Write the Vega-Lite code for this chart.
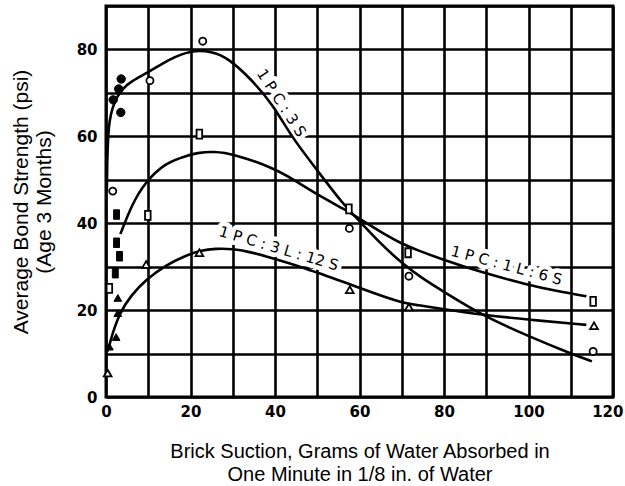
{
  "$schema": "https://vega.github.io/schema/vega-lite/v6.json",
  "width": 507,
  "height": 391,
  "autosize": "none",
  "padding": {"left": 106, "top": 6, "right": 12, "bottom": 89},
  "background": "white",
  "config": {
    "view": {"stroke": "black", "strokeWidth": 3},
    "axis": {
      "grid": true, "gridColor": "black", "gridWidth": 2.6, "gridOpacity": 1,
      "domain": false, "ticks": false, "tickSize": 0,
      "labelFont": "DejaVu Sans", "labelFontWeight": "bold", "labelFontSize": 15, "labelColor": "black",
      "titleFont": "Liberation Sans", "titleFontWeight": "normal", "titleFontSize": 20, "titleColor": "black",
      "titleLineHeight": 23
    }
  },
  "datasets": {
    "points": [
      {"mix": "3S", "filled": true, "x": 3.6, "y": 73.2},
      {"mix": "3S", "filled": true, "x": 3.0, "y": 70.9},
      {"mix": "3S", "filled": true, "x": 1.7, "y": 68.4},
      {"mix": "3S", "filled": true, "x": 3.5, "y": 65.5},
      {"mix": "3S", "filled": false, "x": 1.6, "y": 47.4},
      {"mix": "3S", "filled": false, "x": 10.4, "y": 72.8},
      {"mix": "3S", "filled": false, "x": 22.9, "y": 81.9},
      {"mix": "3S", "filled": false, "x": 57.6, "y": 38.8},
      {"mix": "3S", "filled": false, "x": 71.7, "y": 27.8},
      {"mix": "3S", "filled": false, "x": 115.3, "y": 10.5},
      {"mix": "6S", "filled": true, "x": 2.5, "y": 42},
      {"mix": "6S", "filled": true, "x": 2.5, "y": 35.5},
      {"mix": "6S", "filled": true, "x": 3.2, "y": 32.4},
      {"mix": "6S", "filled": true, "x": 2.2, "y": 28.5},
      {"mix": "6S", "filled": false, "x": 0.8, "y": 25},
      {"mix": "6S", "filled": false, "x": 9.9, "y": 41.8},
      {"mix": "6S", "filled": false, "x": 22.1, "y": 60.5},
      {"mix": "6S", "filled": false, "x": 57.5, "y": 43.3},
      {"mix": "6S", "filled": false, "x": 71.5, "y": 33.2},
      {"mix": "6S", "filled": false, "x": 115.3, "y": 22},
      {"mix": "12S", "filled": true, "x": 2.8, "y": 22.8},
      {"mix": "12S", "filled": true, "x": 2.8, "y": 19.3},
      {"mix": "12S", "filled": true, "x": 2.4, "y": 13.8},
      {"mix": "12S", "filled": true, "x": 0.8, "y": 11.6},
      {"mix": "12S", "filled": false, "x": 0.4, "y": 5.5},
      {"mix": "12S", "filled": false, "x": 9.5, "y": 30.5},
      {"mix": "12S", "filled": false, "x": 22.1, "y": 33.2},
      {"mix": "12S", "filled": false, "x": 57.7, "y": 24.7},
      {"mix": "12S", "filled": false, "x": 71.7, "y": 20.7},
      {"mix": "12S", "filled": false, "x": 115.5, "y": 16.4}
    ],
    "curves": [
      {"mix": "3S", "x": 0.2, "y": 47.5}, {"mix": "3S", "x": 0.3, "y": 55}, {"mix": "3S", "x": 0.5, "y": 60},
      {"mix": "3S", "x": 0.8, "y": 63.5}, {"mix": "3S", "x": 1.5, "y": 66.5}, {"mix": "3S", "x": 2.5, "y": 69},
      {"mix": "3S", "x": 4, "y": 71}, {"mix": "3S", "x": 6, "y": 72.7}, {"mix": "3S", "x": 10, "y": 74.7},
      {"mix": "3S", "x": 15, "y": 77.8}, {"mix": "3S", "x": 20, "y": 79.8}, {"mix": "3S", "x": 25, "y": 79.6},
      {"mix": "3S", "x": 29.2, "y": 77.8}, {"mix": "3S", "x": 34, "y": 73.5}, {"mix": "3S", "x": 39.5, "y": 67.4},
      {"mix": "3S", "x": 43.8, "y": 60}, {"mix": "3S", "x": 50, "y": 52.2}, {"mix": "3S", "x": 56, "y": 44.5},
      {"mix": "3S", "x": 60, "y": 40.5}, {"mix": "3S", "x": 65, "y": 35.3}, {"mix": "3S", "x": 70, "y": 30.8},
      {"mix": "3S", "x": 75, "y": 27.2}, {"mix": "3S", "x": 80, "y": 24.2}, {"mix": "3S", "x": 89, "y": 18.8},
      {"mix": "3S", "x": 100, "y": 14}, {"mix": "3S", "x": 110, "y": 10}, {"mix": "3S", "x": 115, "y": 8.2},
      {"mix": "6S", "x": 3.4, "y": 37.5}, {"mix": "6S", "x": 6, "y": 44}, {"mix": "6S", "x": 9.1, "y": 49.3},
      {"mix": "6S", "x": 14.2, "y": 54}, {"mix": "6S", "x": 19, "y": 55.5}, {"mix": "6S", "x": 22.1, "y": 56.3},
      {"mix": "6S", "x": 25.5, "y": 56.5}, {"mix": "6S", "x": 30, "y": 56}, {"mix": "6S", "x": 39.5, "y": 52.8},
      {"mix": "6S", "x": 45, "y": 49.7}, {"mix": "6S", "x": 50.5, "y": 46.3}, {"mix": "6S", "x": 56.5, "y": 43.2},
      {"mix": "6S", "x": 60, "y": 41}, {"mix": "6S", "x": 65, "y": 38}, {"mix": "6S", "x": 70.3, "y": 35.1},
      {"mix": "6S", "x": 73.5, "y": 33.9}, {"mix": "6S", "x": 80, "y": 31.5}, {"mix": "6S", "x": 89.2, "y": 28.6},
      {"mix": "6S", "x": 99.5, "y": 25.9}, {"mix": "6S", "x": 107, "y": 24.3}, {"mix": "6S", "x": 113.7, "y": 23.2},
      {"mix": "12S", "x": 0.4, "y": 10.5}, {"mix": "12S", "x": 1.5, "y": 14.5}, {"mix": "12S", "x": 3.2, "y": 19.3},
      {"mix": "12S", "x": 6, "y": 23.5}, {"mix": "12S", "x": 9.5, "y": 27}, {"mix": "12S", "x": 14, "y": 30.3},
      {"mix": "12S", "x": 19, "y": 32.6}, {"mix": "12S", "x": 22.2, "y": 33.7}, {"mix": "12S", "x": 26, "y": 34.2},
      {"mix": "12S", "x": 30, "y": 34.1}, {"mix": "12S", "x": 34, "y": 33.4}, {"mix": "12S", "x": 37.9, "y": 32.4},
      {"mix": "12S", "x": 45.8, "y": 30.1}, {"mix": "12S", "x": 50, "y": 28.6}, {"mix": "12S", "x": 56.9, "y": 26.3},
      {"mix": "12S", "x": 63, "y": 24}, {"mix": "12S", "x": 70.3, "y": 21.6}, {"mix": "12S", "x": 73.5, "y": 21.2},
      {"mix": "12S", "x": 80, "y": 20.2}, {"mix": "12S", "x": 89.2, "y": 18.9}, {"mix": "12S", "x": 100, "y": 17.8},
      {"mix": "12S", "x": 113.7, "y": 16.6}
    ],
    "labels": [
      {"mix": "3S", "label": "1 P C : 3 S", "x": 41.5, "y": 67.7},
      {"mix": "12S", "label": "1 P C : 3 L : 12 S", "x": 40.9, "y": 34.2},
      {"mix": "6S", "label": "1 P C : 1 L : 6 S", "x": 94.8, "y": 30.3}
    ],
    "legend": [
      {"key": "PC", "desc": "PORTLAND CEMENT", "y": 74.4},
      {"key": "L", "desc": "LIME", "y": 68.6},
      {"key": "S", "desc": "SAND", "y": 62.4}
    ]
  },
  "encoding": {
    "x": {
      "field": "x", "type": "quantitative",
      "scale": {"domain": [0, 120], "nice": false, "zero": false},
      "axis": {
        "values": [0, 10, 20, 30, 40, 50, 60, 70, 80, 90, 100, 110, 120],
        "labelExpr": "datum.value % 20 === 0 ? datum.label : ''",
        "labelAlign": {"condition": {"test": "datum.value === 120", "value": "right"}, "value": "center"},
        "labelOffset": {"condition": {"test": "datum.value === 120", "value": 10}, "value": 0},
        "labelPadding": 7, "titlePadding": 22,
        "labelFlush": false
      },
      "title": ["Brick Suction, Grams of Water Absorbed in", "One Minute in 1/8 in. of Water"]
    },
    "y": {
      "field": "y", "type": "quantitative",
      "scale": {"domain": [0, 90], "nice": false, "zero": false},
      "axis": {
        "values": [0, 10, 20, 30, 40, 50, 60, 70, 80, 90],
        "labelExpr": "datum.value % 20 === 0 && datum.value < 90 ? datum.label : ''",
        "labelPadding": 9, "titlePadding": 22,
        "titleFontSize": 21, "titleLineHeight": 23,
        "labelFlush": false
      },
      "title": ["Average Bond Strength (psi)", "(Age 3 Months)"]
    }
  },
  "layer": [
    {
      "data": {"values": [{}]},
      "mark": {"type": "rect", "fill": "white", "stroke": "black", "strokeWidth": 2.6},
      "encoding": {
        "x": {"datum": 60, "type": "quantitative"},
        "x2": {"datum": 120},
        "y": {"datum": 60, "type": "quantitative"},
        "y2": {"datum": 80}
      }
    },
    {
      "data": {"name": "labels"},
      "mark": {"type": "text", "font": "DejaVu Sans", "fontSize": 15, "fill": "white", "stroke": "white", "strokeWidth": 9, "strokeJoin": "round", "align": "center", "baseline": "middle"},
      "encoding": {
        "text": {"field": "label"},
        "angle": {"condition": [{"test": "datum.mix === '3S'", "value": 57}, {"test": "datum.mix === '12S'", "value": 16.5}], "value": 15}
      }
    },
    {
      "data": {"name": "curves"},
      "mark": {"type": "line", "interpolate": "basis", "color": "black", "strokeWidth": 2.6},
      "encoding": {"detail": {"field": "mix"}}
    },
    {
      "data": {"name": "points"},
      "transform": [{"filter": "!datum.filled"}],
      "mark": {"type": "point", "filled": true, "fill": "white", "stroke": "black", "strokeWidth": 1.8, "opacity": 1},
      "encoding": {
        "shape": {"field": "mix", "type": "nominal", "scale": {"domain": ["3S", "6S", "12S"], "range": ["circle", "M-0.62,-1H0.62V1H-0.62Z", "triangle-up"]}, "legend": null},
        "size": {"condition": [{"test": "datum.mix === '6S'", "value": 81}, {"test": "datum.mix === '12S'", "value": 60}], "value": 50}
      }
    },
    {
      "data": {"name": "points"},
      "transform": [{"filter": "datum.filled"}],
      "mark": {"type": "point", "filled": true, "fill": "black", "stroke": "black", "strokeWidth": 1, "opacity": 1},
      "encoding": {
        "shape": {"field": "mix", "type": "nominal", "scale": {"domain": ["3S", "6S", "12S"], "range": ["circle", "M-0.62,-1H0.62V1H-0.62Z", "triangle-up"]}, "legend": null},
        "size": {"condition": [{"test": "datum.mix === '6S'", "value": 90}, {"test": "datum.mix === '12S'", "value": 60}], "value": 70}
      }
    },
    {
      "data": {"name": "labels"},
      "mark": {"type": "text", "font": "DejaVu Sans", "fontSize": 15, "fill": "black", "align": "center", "baseline": "middle"},
      "encoding": {
        "text": {"field": "label"},
        "angle": {"condition": [{"test": "datum.mix === '3S'", "value": 57}, {"test": "datum.mix === '12S'", "value": 16.5}], "value": 15}
      }
    },
    {
      "data": {"name": "legend"},
      "mark": {"type": "text", "font": "DejaVu Sans", "fontSize": 16, "fill": "black", "align": "left", "baseline": "alphabetic"},
      "encoding": {"x": {"datum": 61.9, "type": "quantitative"}, "text": {"field": "key"}}
    },
    {
      "data": {"name": "legend"},
      "mark": {"type": "text", "font": "DejaVu Sans", "fontSize": 16, "fill": "black", "align": "center", "baseline": "alphabetic"},
      "encoding": {"x": {"datum": 68.4, "type": "quantitative"}, "text": {"value": "="}}
    },
    {
      "data": {"name": "legend"},
      "mark": {"type": "text", "font": "DejaVu Sans", "fontSize": 16, "fill": "black", "align": "left", "baseline": "alphabetic"},
      "encoding": {"x": {"datum": 70.6, "type": "quantitative"}, "text": {"field": "desc"}}
    }
  ]
}
